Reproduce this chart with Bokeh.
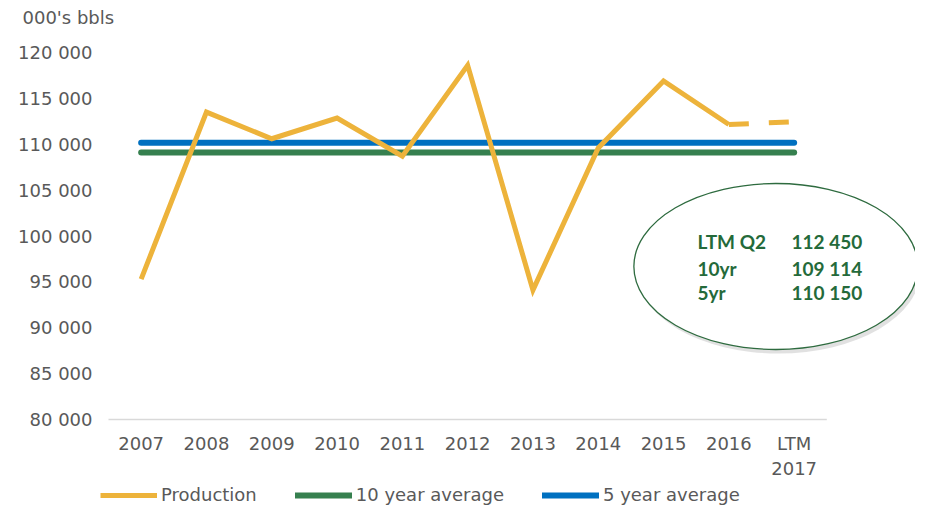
from bokeh.plotting import figure
from bokeh.models import (FixedTicker, Range1d, Legend, LegendItem, ColumnDataSource)
from bokeh.core.properties import value
from bokeh.embed import file_html
from bokeh.resources import INLINE

# ---- data ----
categories = ["2007", "2008", "2009", "2010", "2011", "2012", "2013", "2014",
              "2015", "2016", "LTM\n2017"]
production = [95300, 113500, 110600, 112860, 108700, 118600, 94100, 109600,
              116900, 112150, 112450]
avg_10yr = 109114
avg_5yr = 110150
y_ticks = [80000, 85000, 90000, 95000, 100000, 105000, 110000, 115000, 120000]
y_tick_labels = ["80 000", "85 000", "90 000", "95 000", "100 000", "105 000",
                 "110 000", "115 000", "120 000"]
unit_label = "000's bbls"
box_labels = ["LTM Q2", "10yr", "5yr"]
box_values = ["112 450", "109 114", "110 150"]

# ---- styles ----
YELLOW = "#EDB33B"
GREEN = "#36804F"
BLUE = "#0070C0"
DARKGREEN = "#246A3A"
GREY_TXT = "#595959"
FONT = "DejaVu Sans"

n = len(categories)
xs = list(range(n))

# ---- layout (the frame covers the whole canvas; axes are pinned inside) ----
W, H = 915, 505
TOP, LEFT = 52, 108      # pixel position of the 120 000 line and of the plot's left edge
AXIS_PX = 367            # pixels between 120 000 and 80 000
CAT_PX = 65.3            # pixels per category
per_px = (y_ticks[-1] - y_ticks[0]) / AXIS_PX
y_hi = y_ticks[-1] + TOP * per_px
y_lo = y_ticks[-1] - (H - TOP) * per_px
x_left = -0.5
x_lo = x_left - LEFT / CAT_PX
x_hi = x_left + (W - LEFT) / CAT_PX

p = figure(width=W, height=H, output_backend="svg", toolbar_location=None,
           x_range=Range1d(x_lo, x_hi), y_range=Range1d(y_lo, y_hi),
           min_border_left=0, min_border_right=0, min_border_top=0,
           min_border_bottom=0)
p.outline_line_color = None
p.xgrid.visible = False
p.ygrid.visible = False
p.background_fill_color = "white"
p.border_fill_color = "white"

# axes
p.xaxis.fixed_location = y_ticks[0]
p.xaxis.ticker = FixedTicker(ticks=xs)
p.xaxis.major_label_overrides = {i: c for i, c in enumerate(categories)}
p.xaxis.axis_line_color = None
p.xaxis.major_tick_line_color = None
p.xaxis.minor_tick_line_color = None
p.xaxis.major_label_standoff = 7
p.xaxis.major_label_text_font = FONT
p.xaxis.major_label_text_font_size = "18px"
p.xaxis.major_label_text_color = GREY_TXT

p.yaxis.fixed_location = x_left
p.yaxis.ticker = FixedTicker(ticks=y_ticks)
p.yaxis.major_label_overrides = {t: l for t, l in zip(y_ticks, y_tick_labels)}
p.yaxis.axis_line_color = None
p.yaxis.major_tick_line_color = None
p.yaxis.minor_tick_line_color = None
p.yaxis.major_label_standoff = 10
p.yaxis.major_label_text_font = FONT
p.yaxis.major_label_text_font_size = "18px"
p.yaxis.major_label_text_color = GREY_TXT

# unit label above the value axis
p.text(x=[x_left - 86 / CAT_PX], y=[y_ticks[-1] + 35 * per_px], text=[unit_label],
       text_font=value(FONT), text_font_size="18px", text_color=GREY_TXT,
       text_baseline="middle", text_align="left")

# baseline
p.segment(x0=[x_left], y0=[y_ticks[0]], x1=[n - 0.5], y1=[y_ticks[0]],
          line_color="#D9D9D9", line_width=1.5)

# average lines
r10 = p.line(x=[xs[0], xs[-1]], y=[avg_10yr, avg_10yr], line_color=GREEN,
             line_width=6, line_cap="round")
r5 = p.line(x=[xs[0], xs[-1]], y=[avg_5yr, avg_5yr], line_color=BLUE,
            line_width=6, line_cap="round")

# production
rp = p.line(x=xs[:-1], y=production[:-1], line_color=YELLOW, line_width=5,
            line_join="miter")
p.line(x=xs[-2:], y=production[-2:], line_color=YELLOW, line_width=5,
       line_dash="20 20")

# ellipse callout
ex, ey = 9.72, y_ticks[-1] - (266 - TOP) * per_px
EW, EH = 284, 166
p.ellipse(x=[ex + 0.04], y=[ey - 4 * per_px], width=EW, height=EH,
          width_units="screen", height_units="screen",
          fill_color="#9a9a9a", fill_alpha=0.3, line_color=None)
p.ellipse(x=[ex], y=[ey], width=EW, height=EH,
          width_units="screen", height_units="screen",
          fill_color="white", line_color="#2E6B3F", line_width=1.3)
src = ColumnDataSource(dict(lx=[8.52] * 3, vx=[9.96] * 3,
                            y=[99400, 96460, 93840],
                            lab=box_labels, val=box_values))
p.text(x="lx", y="y", text="lab", source=src, text_font=value("Lato"),
       text_font_style="bold", text_font_size="19px", text_color=DARKGREEN,
       text_baseline="middle", text_align="left")
p.text(x="vx", y="y", text="val", source=src, text_font=value("Lato"),
       text_font_style="bold", text_font_size="19px", text_color=DARKGREEN,
       text_baseline="middle", text_align="left")

legend = Legend(items=[LegendItem(label="Production", renderers=[rp]),
                       LegendItem(label="10 year average", renderers=[r10]),
                       LegendItem(label="5 year average", renderers=[r5])],
                orientation="horizontal", location=(100, 0),
                glyph_width=57, glyph_height=14, label_height=14,
                label_standoff=4, spacing=38, padding=0, margin=0,
                label_text_font=FONT, label_text_baseline="middle",
                label_text_font_size="18px", label_text_color=GREY_TXT,
                border_line_color=None, background_fill_alpha=0)
p.add_layout(legend, "center")

open("out.html", "w").write(file_html(p, INLINE))
